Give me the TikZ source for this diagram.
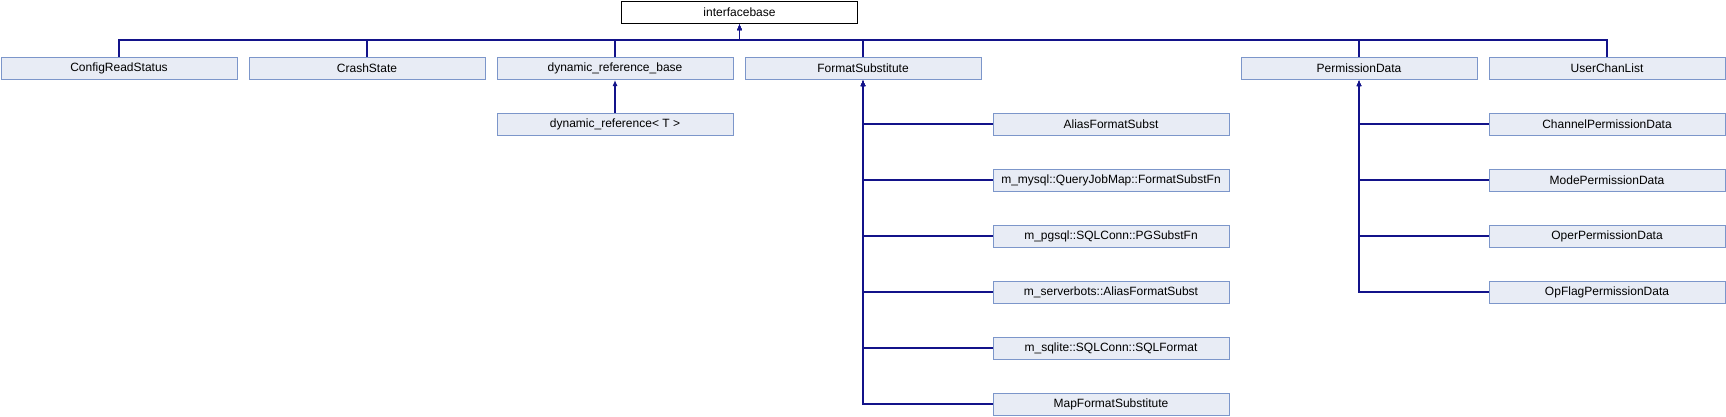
\documentclass[tikz,border=0pt]{standalone}
\usepackage{fontspec}
\setmainfont{Liberation Sans}
\usetikzlibrary{arrows.meta}
\definecolor{edgecol}{HTML}{13138A}
\definecolor{boxfill}{HTML}{E8ECF5}
\definecolor{boxline}{HTML}{7C96CA}
\tikzset{
  cls/.style={draw=boxline, fill=boxfill, line width=1pt, minimum width=236pt, minimum height=22pt, inner sep=0pt, anchor=north west, font=\fontsize{12}{14}\selectfont},
  rootcls/.style={cls, draw=black, fill=white},
  edge/.style={draw=edgecol, line width=1.1pt, -{Latex[length=6pt,width=5pt]}},
}
\begin{document}
\begin{tikzpicture}[x=1pt,y=-1pt]
\useasboundingbox (0,0) rectangle (1726,416);
\node[rootcls] (ib) at (621,1) {interfacebase};
\coordinate (bus) at (739,40);
% row 1
\node[cls] (crs) at (0.5,57) {ConfigReadStatus};
\node[cls] (cs) at (248.5,57) {CrashState};
\node[cls] (drb) at (496.5,57) {dynamic\_reference\_base};
\node[cls] (fs) at (744.5,57) {FormatSubstitute};
\node[cls] (pd) at (1240.5,57) {PermissionData};
\node[cls] (ucl) at (1488.5,57) {UserChanList};
% row 2
\node[cls] (drt) at (496.5,112.5) {dynamic\_reference< T >};
% FormatSubstitute children
\node[cls] (afs) at (992.5,112.5) {AliasFormatSubst};
\node[cls] (mys) at (992.5,168.5) {m\_mysql::QueryJobMap::FormatSubstFn};
\node[cls] (pgs) at (992.5,224.5) {m\_pgsql::SQLConn::PGSubstFn};
\node[cls] (sbs) at (992.5,280.5) {m\_serverbots::AliasFormatSubst};
\node[cls] (sql) at (992.5,336.5) {m\_sqlite::SQLConn::SQLFormat};
\node[cls] (mfs) at (992.5,392.5) {MapFormatSubstitute};
% PermissionData children
\node[cls] (cpd) at (1488.5,112.5) {ChannelPermissionData};
\node[cls] (mpd) at (1488.5,168.5) {ModePermissionData};
\node[cls] (opd) at (1488.5,224.5) {OperPermissionData};
\node[cls] (ofp) at (1488.5,280.5) {OpFlagPermissionData};
% edges to interfacebase
\foreach \c in {crs,cs,drb,fs,pd,ucl}
  \draw[edge] (\c.north) |- (ib.south |- bus) -- (ib.south);
% dynamic_reference
\draw[edge] (drt.north) -- (drb.south);
% FormatSubstitute
\foreach \c in {afs,mys,pgs,sbs,sql,mfs}
  \draw[edge] (\c.west) -| (fs.south);
% PermissionData
\foreach \c in {cpd,mpd,opd,ofp}
  \draw[edge] (\c.west) -| (pd.south);
\end{tikzpicture}
\end{document}
